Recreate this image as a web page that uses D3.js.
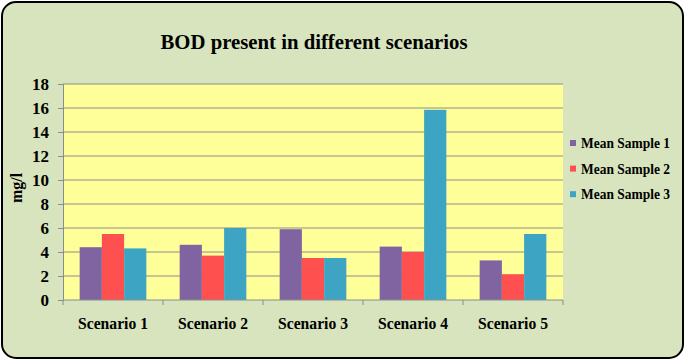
<!DOCTYPE html>
<html><head><meta charset="utf-8">
<script src="https://cdn.jsdelivr.net/npm/d3@7"></script>
<style>
html,body{margin:0;padding:0;background:#fff;}
svg{display:block;}
text{font-family:"Liberation Serif","Times New Roman",serif;font-weight:bold;fill:#000;}
</style></head>
<body>
<svg id="chart" width="685" height="361"></svg>
<script>
const categories = ["Scenario 1","Scenario 2","Scenario 3","Scenario 4","Scenario 5"];
const seriesNames = ["Mean Sample 1","Mean Sample 2","Mean Sample 3"];
const sample1 = [4.4, 4.6, 5.9, 4.45, 3.3];
const sample2 = [5.5, 3.7, 3.5, 4.0, 2.15];
const sample3 = [4.3, 6.0, 3.5, 15.85, 5.5];
const yTicks = [0,2,4,6,8,10,12,14,16,18];
const colors = ["#8064A2","#FF5050","#3DA5C3"];
const series = [sample1, sample2, sample3];

const svg = d3.select("#chart");
svg.append("rect").attr("x",2).attr("y",2).attr("width",681).attr("height",356)
  .attr("rx",14).attr("ry",14).attr("fill","#D7E4BD").attr("stroke","#000").attr("stroke-width",2);

const m = {l:63, r:563, t:84, b:300};
const x0 = d3.scaleBand().domain(categories).range([m.l, m.r]).paddingInner(0).paddingOuter(0);
const bw = x0.bandwidth();
const x1 = d3.scaleBand().domain(seriesNames).range([0, bw]).paddingInner(0).paddingOuter(0.75);
const y = d3.scaleLinear().domain([0,18]).range([m.b, m.t]);

svg.append("rect").attr("x",m.l).attr("y",m.t).attr("width",m.r-m.l).attr("height",m.b-m.t).attr("fill","#FFFF99");

// gridlines
svg.append("g").selectAll("line").data(yTicks.filter(d=>d>0)).join("line")
  .attr("x1",m.l).attr("x2",m.r).attr("y1",d=>y(d)).attr("y2",d=>y(d))
  .attr("stroke","#8C8C8C").attr("stroke-width",1);

// bars
series.forEach((vals,si)=>{
  svg.append("g").selectAll("rect").data(vals).join("rect")
    .attr("x",(d,i)=>x0(categories[i])+x1(seriesNames[si]))
    .attr("y",d=>y(d)).attr("width",x1.bandwidth()).attr("height",d=>y(0)-y(d))
    .attr("fill",colors[si]);
});

// y axis
const yAxis = d3.axisLeft(y).tickValues(yTicks).tickSize(5).tickPadding(9).tickFormat(d3.format("d"));
const gy = svg.append("g").attr("transform",`translate(${m.l},0)`).call(yAxis);
gy.selectAll("path,line").attr("stroke","#8C8C8C");
gy.selectAll("text").style("font-size","17px").style("font-family","'Liberation Serif',serif").style("font-weight","bold").attr("fill","#000");

// x axis
const xAxis = d3.axisBottom(x0).tickSize(0).tickPadding(17);
const gx = svg.append("g").attr("transform",`translate(0,${m.b})`).call(xAxis);
gx.select("path").attr("stroke","#8C8C8C").attr("d",`M${m.l},0H${m.r}`);
gx.selectAll("text").style("font-size","17px").style("font-family","'Liberation Serif',serif").style("font-weight","bold").attr("fill","#000")
  .attr("textLength",70).attr("lengthAdjust","spacingAndGlyphs");
gx.append("g").selectAll("line").data(d3.range(categories.length+1)).join("line")
  .attr("x1",i=>m.l+i*bw).attr("x2",i=>m.l+i*bw).attr("y1",0).attr("y2",5).attr("stroke","#8C8C8C");

// title
svg.append("text").attr("x",314).attr("y",49).attr("text-anchor","middle")
  .style("font-size","22px").attr("textLength",307).attr("lengthAdjust","spacingAndGlyphs")
  .text("BOD present in different scenarios");

// y title
svg.append("text").attr("transform","translate(22,188) rotate(-90)").attr("text-anchor","middle")
  .style("font-size","16px").text("mg/l");

// legend
const lg = svg.append("g");
seriesNames.forEach((n,i)=>{
  const yy = 143 + i*25.6;
  lg.append("rect").attr("x",570).attr("y",yy-3).attr("width",6).attr("height",6).attr("fill",colors[i]);
  lg.append("text").attr("x",581).attr("y",yy+5).style("font-size","14.5px")
    .attr("textLength",89).attr("lengthAdjust","spacingAndGlyphs").text(n);
});
</script>
</body></html>
